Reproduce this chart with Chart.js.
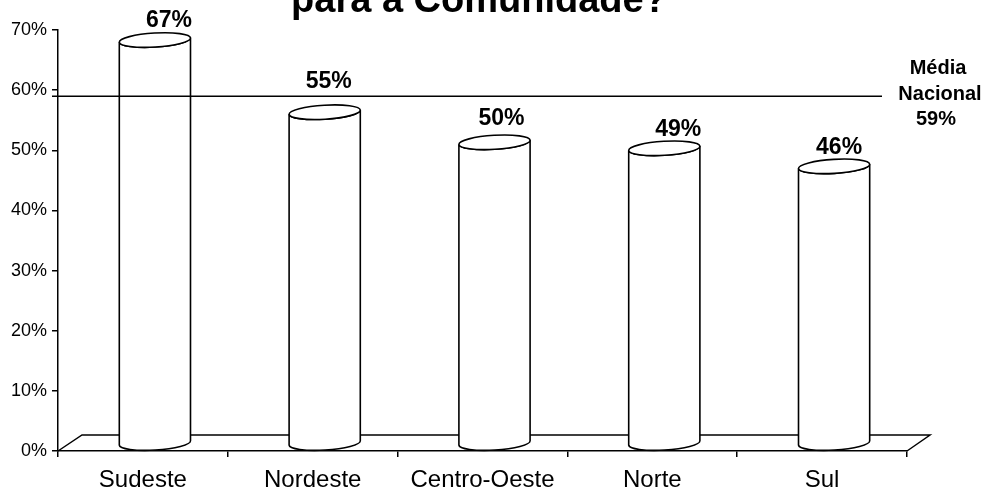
<!DOCTYPE html>
<html>
<head>
<meta charset="utf-8">
<script src="https://cdn.jsdelivr.net/npm/chart.js@4/dist/chart.umd.min.js"></script>
<style>
  html, body { margin: 0; padding: 0; background: #fff; }
  #wrap { width: 986px; height: 490px; }
</style>
</head>
<body>
<div id="wrap"><canvas id="c" width="986" height="490"></canvas></div>
<script>
// Regional shares and the national average
const categories = ['Sudeste', 'Nordeste', 'Centro-Oeste', 'Norte', 'Sul'];
const percentages = [67, 55, 50, 49, 46];
const mediaNacional = 59;
const mediaLabel = ['Média', 'Nacional'];
const titleText = 'para a Comunidade?';
const yMin = 0, yMax = 70, yStep = 10;

// Layout of the value labels: [dx, dy] from the cylinder top
const labelShift = [[14, -13], [4, -24], [7, -17], [14, -12], [5, -12]];

const FONT = "'Liberation Sans', Arial, sans-serif";
const DEPTH_X = 24, DEPTH_Y = 16;   // oblique depth of the 3D floor
const RY = 7, TILT = -0.06;         // ellipse of the cylinder caps

function ellipsePoint(cx, cy, rx, ry, rot, t) {
  return [
    cx + rx * Math.cos(t) * Math.cos(rot) - ry * Math.sin(t) * Math.sin(rot),
    cy + rx * Math.cos(t) * Math.sin(rot) + ry * Math.sin(t) * Math.cos(rot)
  ];
}

const cylinderPlugin = {
  id: 'cylinders',
  beforeDatasetsDraw(chart) {
    // floor of the plot, drawn as a slanted plane
    const { ctx, chartArea: a } = chart;
    ctx.save();
    ctx.strokeStyle = '#000';
    ctx.lineWidth = 1.5;
    ctx.beginPath();
    ctx.moveTo(a.left, a.bottom);
    ctx.lineTo(a.left + DEPTH_X, a.bottom - DEPTH_Y);
    ctx.lineTo(a.right + DEPTH_X - 1, a.bottom - DEPTH_Y);
    ctx.lineTo(a.right, a.bottom);
    ctx.stroke();
    ctx.restore();
  },
  afterDatasetsDraw(chart) {
    const { ctx, chartArea: a } = chart;
    const ys = chart.scales.y;
    const meta = chart.getDatasetMeta(0);
    ctx.save();
    ctx.strokeStyle = '#000';
    ctx.lineWidth = 1.6;
    ctx.fillStyle = '#fff';
    meta.data.forEach((el, i) => {
      const cx = el.x + DEPTH_X / 2;
      const rx = el.width / 2;
      const yt = ys.getPixelForValue(percentages[i]) - DEPTH_Y / 2;
      const yb = ys.getPixelForValue(0) - DEPTH_Y / 2;
      const tl = ellipsePoint(cx, yt, rx, RY, TILT, Math.PI);
      const bl = ellipsePoint(cx, yb, rx, RY, TILT, Math.PI);
      const tr = ellipsePoint(cx, yt, rx, RY, TILT, 0);
      ctx.beginPath();
      ctx.moveTo(tl[0], tl[1]);
      ctx.lineTo(bl[0], bl[1]);
      ctx.ellipse(cx, yb, rx, RY, TILT, Math.PI, 0, true);
      ctx.lineTo(tr[0], tr[1]);
      ctx.ellipse(cx, yt, rx, RY, TILT, 0, Math.PI, false);
      ctx.closePath();
      ctx.fill();
      ctx.stroke();
      ctx.beginPath();
      ctx.ellipse(cx, yt, rx, RY, TILT, 0, Math.PI * 2);
      ctx.fill();
      ctx.stroke();
    });

    // national average line
    const ym = ys.getPixelForValue(mediaNacional);
    ctx.lineWidth = 1.5;
    ctx.beginPath();
    ctx.moveTo(a.left - 6, ym);
    ctx.lineTo(a.right - 25, ym);
    ctx.stroke();

    // average label
    ctx.fillStyle = '#000';
    ctx.textAlign = 'center';
    ctx.textBaseline = 'alphabetic';
    ctx.font = 'bold 20px ' + FONT;
    const mx = a.right + 33;
    ctx.fillText(mediaLabel[0], mx - 2, ym - 22);
    ctx.fillText(mediaLabel[1], mx, ym + 4);
    ctx.fillText(mediaNacional + '%', mx - 4, ym + 29);

    // value labels above the cylinders
    ctx.font = 'bold 23px ' + FONT;
    meta.data.forEach((el, i) => {
      const cx = el.x + DEPTH_X / 2;
      const yt = ys.getPixelForValue(percentages[i]) - DEPTH_Y / 2;
      ctx.fillText(percentages[i] + '%', cx + labelShift[i][0], yt + labelShift[i][1]);
    });

    // title (upper part lies beyond the top edge)
    ctx.font = 'bold 38px ' + FONT;
    ctx.fillText(titleText, 479, 12);
    ctx.restore();
  }
};

new Chart(document.getElementById('c'), {
  type: 'bar',
  data: {
    labels: categories,
    datasets: [{
      data: percentages,
      backgroundColor: 'rgba(0,0,0,0)',
      borderWidth: 0,
      categoryPercentage: 1,
      barPercentage: 0.42
    }]
  },
  options: {
    responsive: false,
    devicePixelRatio: 1,
    animation: false,
    layout: { padding: { top: 30, right: 79, left: 0, bottom: 0 } },
    plugins: { legend: { display: false }, tooltip: { enabled: false }, title: { display: false } },
    scales: {
      x: {
        grid: { offset: true, drawOnChartArea: false, tickLength: 6, color: '#000', lineWidth: 1.5 },
        border: { color: '#000', width: 1.5 },
        ticks: { color: '#000', font: { family: FONT, size: 24 }, padding: 9, maxRotation: 0 },
        afterFit(s) { s.height = 39; }
      },
      y: {
        min: yMin, max: yMax,
        grid: { drawOnChartArea: false, tickLength: 6, color: '#000', lineWidth: 1.5 },
        border: { color: '#000', width: 1.5 },
        ticks: { stepSize: yStep, color: '#000', font: { family: FONT, size: 18 }, padding: 5, callback: v => v + '%' },
        afterFit(s) { s.width = 58; }
      }
    }
  },
  plugins: [cylinderPlugin]
});
</script>
</body>
</html>
